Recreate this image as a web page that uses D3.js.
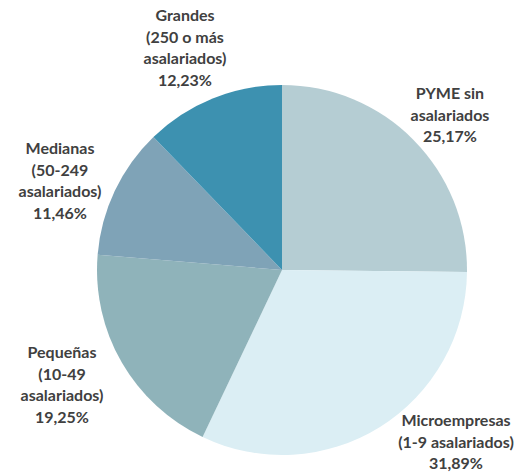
<!DOCTYPE html>
<html>
<head>
<meta charset="utf-8">
<script src="https://cdn.jsdelivr.net/npm/d3@7"></script>
<style>
  body { margin: 0; background: #fff; }
  .lbl { font-family: Lato, "Open Sans", sans-serif; font-weight: bold; font-size: 16px; fill: #404040; }
</style>
</head>
<body>
<div id="chart"></div>
<script>
// Data
const categories = ["PYME sin asalariados", "Microempresas (1-9 asalariados)", "Pequeñas (10-49 asalariados)", "Medianas (50-249 asalariados)", "Grandes (250 o más asalariados)"];
const values = [25.17, 31.89, 19.25, 11.46, 12.23];
const labelLines = [
    ["PYME sin", "asalariados", "25,17%"],
    ["Microempresas", "(1-9 asalariados)", "31,89%"],
    ["Pequeñas", "(10-49", "asalariados)", "19,25%"],
    ["Medianas", "(50-249", "asalariados)", "11,46%"],
    ["Grandes", "(250 o más", "asalariados)", "12,23%"]
];
const colors = ["#b5cdd3", "#dbeef4", "#8fb3ba", "#7fa3b7", "#3d91b0"];

const width = 516, height = 472;
const cx = 282, cy = 270, radius = 185;

// label anchor (centre x, first baseline y)
const labelPos = [[450, 99], [456, 426], [62, 358], [60, 154], [185, 21]];
const lineH = 21.5;

const svg = d3.select("#chart").append("svg")
    .attr("width", width)
    .attr("height", height);

const pie = d3.pie().sort(null).value(d => d);
const arc = d3.arc().innerRadius(0).outerRadius(radius);

const g = svg.append("g").attr("transform", "translate(" + cx + "," + cy + ")");

g.selectAll("path")
    .data(pie(values))
    .enter().append("path")
    .attr("d", arc)
    .attr("fill", (d, i) => colors[i]);

// Labels
labelLines.forEach(function(lines, i) {
    const t = svg.append("text")
        .attr("class", "lbl")
        .attr("text-anchor", "middle")
        .attr("x", labelPos[i][0])
        .attr("y", labelPos[i][1]);
    lines.forEach(function(l, j) {
        t.append("tspan")
            .attr("x", labelPos[i][0])
            .attr("dy", j === 0 ? 0 : lineH)
            .text(l);
    });
});
</script>
</body>
</html>
